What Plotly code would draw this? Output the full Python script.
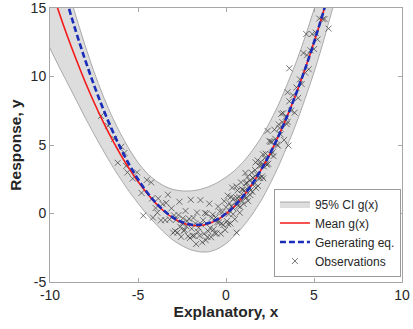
import plotly.graph_objects as go

# ---- data ----
band_x = [-10.5, -10, -9.5, -9, -8.5, -8, -7.5, -7, -6.5, -6, -5.5, -5, -4.5, -4, -3.5, -3, -2.5, -2,
          -1.5, -1, -0.5, 0, 0.5, 1, 1.5, 2, 2.5, 3, 3.5, 4, 4.5, 5, 5.5, 6, 6.5]
ci_lower = [13.35, 12.05, 10.75, 9.5, 8.25, 7.0, 5.8, 4.65, 3.55, 2.55, 1.6, 0.75, -0.05, -0.75, -1.4,
            -1.95, -2.35, -2.65, -2.8, -2.8, -2.6, -2.2, -1.6, -0.9, -0.05, 0.95, 2.15, 3.5, 5.0, 6.6,
            8.4, 10.3, 12.4, 14.7, 17.0]
ci_upper = [23.6, 21.1, 18.7, 16.45, 14.3, 12.25, 10.35, 8.65, 7.15, 5.85, 4.7, 3.72, 2.95, 2.4, 2.0,
            1.75, 1.65, 1.65, 1.75, 1.95, 2.25, 2.65, 3.15, 3.8, 4.6, 5.55, 6.7, 8.0, 9.5, 11.1, 12.9,
            14.9, 17.0, 19.3, 22.0]

line_x = [-10, -9.5, -9, -8.5, -8, -7.5, -7, -6.5, -6, -5.5, -5, -4.5, -4, -3.5, -3, -2.5, -2, -1.5,
          -1, -0.5, 0, 0.5, 1, 1.5, 2, 2.5, 3, 3.5, 4, 4.5, 5, 5.5, 6]
mean_g = [16.7, 14.73, 12.9, 11.2, 9.6, 8.12, 6.74, 5.48, 4.32, 3.28, 2.33, 1.5, 0.76, 0.145, -0.34,
          -0.675, -0.86, -0.885, -0.75, -0.465, -0.03, 0.56, 1.29, 2.17, 3.2, 4.37, 5.7, 7.18, 8.8,
          10.58, 12.5, 14.58, 16.8]
generating = [20.0, 17.575, 15.3, 13.175, 11.2, 9.375, 7.7, 6.175, 4.8, 3.575, 2.5, 1.575, 0.8, 0.175,
              -0.3, -0.625, -0.8, -0.825, -0.7, -0.425, 0.0, 0.575, 1.3, 2.175, 3.2, 4.375, 5.7,
              7.175, 8.8, 10.575, 12.5, 14.575, 16.8]

obs_x = [-7.1, -6.7, -6.35, -6.15, -5.95, -5.77, -5.67, -5.6, -5.3, -5.05, -4.8, -4.7, -4.5, -4.25, -4.2,
         -4.15, -4.0,
         -3.85, -3.7, -3.6, -3.45, -3.3, -3.2, -3.1, -3.0, -2.95, -2.85, -2.75, -2.65, -2.6, -2.55, -2.45,
         -2.4, -2.3, -2.25, -2.15, -2.1, -2.05, -2.0,
         -1.95, -1.85, -1.8, -1.75, -1.7, -1.65, -1.6, -1.5, -1.45, -1.4, -1.35, -1.3, -1.25, -1.2, -1.1,
         -1.05, -0.95, -0.9, -0.85, -0.75, -0.7, -0.6, -0.55, -0.45, -0.4, -0.35, -0.3, -0.2, -0.15,
         -0.1, -0.05,
         0.0, 0.05, 0.1, 0.15, 0.2, 0.25, 0.3, 0.35, 0.4, 0.45, 0.5, 0.55, 0.6, 0.65, 0.7, 0.75, 0.8,
         0.85, 0.9, 0.95, 1.0, 1.05, 1.1, 1.15, 1.2, 1.25, 1.3, 1.35, 1.4, 1.45, 1.5, 1.55, 1.6, 1.65,
         1.7, 1.75, 1.8, 1.85, 1.9, 1.95,
         2.0, 2.05, 2.1, 2.15, 2.2, 2.28, 2.36, 2.4, 2.47, 2.55, 2.6, 2.7, 2.8, 2.9, 3.0, 3.1, 3.2, 3.3,
         3.4, 3.5, 3.6, 3.7, 3.8, 3.9,
         4.0, 4.1, 4.2, 4.3, 4.4, 4.5, 4.6, 4.7, 4.8, 4.9, 5.0, 5.1, 5.2, 5.3, 5.5, 5.6,
         5.83, 3.6, 4.56, 3.55, 3.14, 3.5,
         -2.9, -2.7, -2.5, -2.35, -2.2, -1.9, -1.55, -1.15, -1.0, -0.8, -0.65, -0.5, -0.25, 0.12, 0.28,
         0.42, 0.62, 0.78, 0.92, 1.08, 1.22, 1.38, 1.52, 1.68, 1.82, 1.98, 2.12, 2.25, 2.33, 2.52, 2.65,
         2.75, 2.95, 3.05, 3.25, 3.45, -3.4, -3.9, 0.58, 1.12]
obs_y = [7.12, 6.4, 5.45, 3.7, 4.87, 4.42, 3.47, 3.0, 2.55, 3.0, 1.5, -0.15, 2.45, 2.27, 1.1, -0.3, 0.4,
         1.1, -0.5, 0.69, -0.48, 1.37, -0.43, 0.38, -1.4, -0.14, -0.47, -1.38, 0.86, -0.97, -1.7, -0.35,
         -1.27, 0.19, -0.93, -1.66, -0.38, -1.79, 1.0,
         -1.11, -0.32, -1.63, -0.73, -2.23, 0.07, -1.33, -1.63, 0.98, -0.81, -2.1, -0.49, -1.48, 0.03, 0.0,
         -1.72, 0.72, -1.06, -1.73, -0.08, -1.15, -0.29, -1.46, 0.51, -0.65, 0.14, -1.47, 0.11, -0.84,
         0.9, -1.2,
         0.45, -0.55, 1.3, -0.04, 0.76, -0.73, 0.53, 1.89, -0.05, 1.11, -0.42, 0.84, -1.39, 1.68, 0.55,
         1.22, 0.49, 2.27, 0.94, 1.72, 0.7, 1.68, 2.96, 1.15, 2.23, 0.92, 1.91, 2.4, 1.69, 2.98, 1.58,
         2.57, 2.17, 3.17, 1.87, 2.87, 3.87, 2.58, 3.48, 2.59,
         3.5, 2.71, 4.32, 3.44, 4.05, 3.64, 6.03, 3.63, 5.3, 4.3, 5.23, 4.19, 5.45, 5.02, 6.5, 5.78, 6.67,
         5.37, 7.07, 6.68, 8.19, 7.51, 8.63, 7.36,
         9.2, 8.44, 9.79, 9.45, 11.71, 10.28, 11.55, 10.53, 11.91, 13.1, 12.0, 13.2, 12.71, 14.23, 14.18,
         14.2,
         13.5, 10.6, 13.1, 4.96, 7.28, 8.85,
         -1.28, -0.11, -0.73, -1.19, -0.55, -1.62, -1.03, -1.95, -1.3, -0.31, -1.42, -0.63, -0.73, -0.78,
         1.2, 0.37, 1.14, 0.06, 1.77, 1.23, 2.67, 1.35, 2.61, 3.73, 2.01, 3.76, 2.57, 4.37, 3.56, 5.23,
         4.46, 6.12, 4.96, 6.24, 7.32, 6.52, 0.77, 0.06, 1.98, 2.2]

x_ticks = [-10, -5, 0, 5, 10]
y_ticks = [-5, 0, 5, 10, 15]

FONT = "Liberation Sans, Arial, Helvetica, sans-serif"
AX = "#a6a6a6"
TXT = "#262626"

fig = go.Figure()

fig.add_trace(go.Scatter(
    x=band_x + band_x[::-1], y=ci_upper + ci_lower[::-1],
    fill="toself", fillcolor="rgb(221,221,221)",
    line=dict(color="rgb(150,150,150)", width=0.8, shape="spline", smoothing=0.6),
    mode="lines", name="95% CI g(x)", legendrank=1, hoverinfo="skip"))

fig.add_trace(go.Scatter(
    x=obs_x, y=obs_y, mode="markers", name="Observations", legendrank=4,
    marker=dict(symbol="x-thin", size=6, color="rgba(55,55,55,0.85)",
                line=dict(width=0.8, color="rgba(55,55,55,0.85)"))))

fig.add_trace(go.Scatter(
    x=line_x, y=mean_g, mode="lines", name="Mean g(x)", legendrank=2,
    line=dict(color="rgb(245,25,25)", width=1.6, shape="spline")))

fig.add_trace(go.Scatter(
    x=line_x, y=generating, mode="lines", name="Generating eq.", legendrank=3,
    line=dict(color="rgb(25,45,185)", width=2.6, dash="6px,3px", shape="spline")))

fig.update_layout(
    width=413, height=329,
    margin=dict(l=50, r=11, t=8, b=47),
    paper_bgcolor="white", plot_bgcolor="white",
    font=dict(family=FONT, size=14, color=TXT),
    showlegend=True,
    legend=dict(x=0.997, y=0.02, xanchor="right", yanchor="bottom",
                bgcolor="white", bordercolor="#9a9a9a", borderwidth=1,
                font=dict(size=12, color=TXT, family=FONT),
                itemwidth=30, tracegroupgap=0),
)

fig.update_xaxes(range=[-10, 10], tickvals=x_ticks, ticktext=[str(v) for v in x_ticks],
                 showgrid=False, zeroline=False, showline=True, linecolor=AX, linewidth=1,
                 mirror="allticks", ticks="inside", ticklen=4, tickcolor=AX, automargin=False,
                 ticklabeloverflow="allow",
                 tickfont=dict(size=14, color=TXT),
                 title=dict(text="<b>Explanatory, x</b>", font=dict(size=15.5, color=TXT), standoff=3))
fig.update_yaxes(range=[-5, 15], tickvals=y_ticks, ticktext=[str(v) for v in y_ticks],
                 showgrid=False, zeroline=False, showline=True, linecolor=AX, linewidth=1,
                 mirror="allticks", ticks="inside", ticklen=4, tickcolor=AX, automargin=False,
                 ticklabeloverflow="allow",
                 tickfont=dict(size=14, color=TXT),
                 title=dict(text="<b>Response, y</b>", font=dict(size=15.5, color=TXT), standoff=5))

fig.write_html("out.html", config={"displayModeBar": False},
               post_script="document.body.style.margin='0px';")
